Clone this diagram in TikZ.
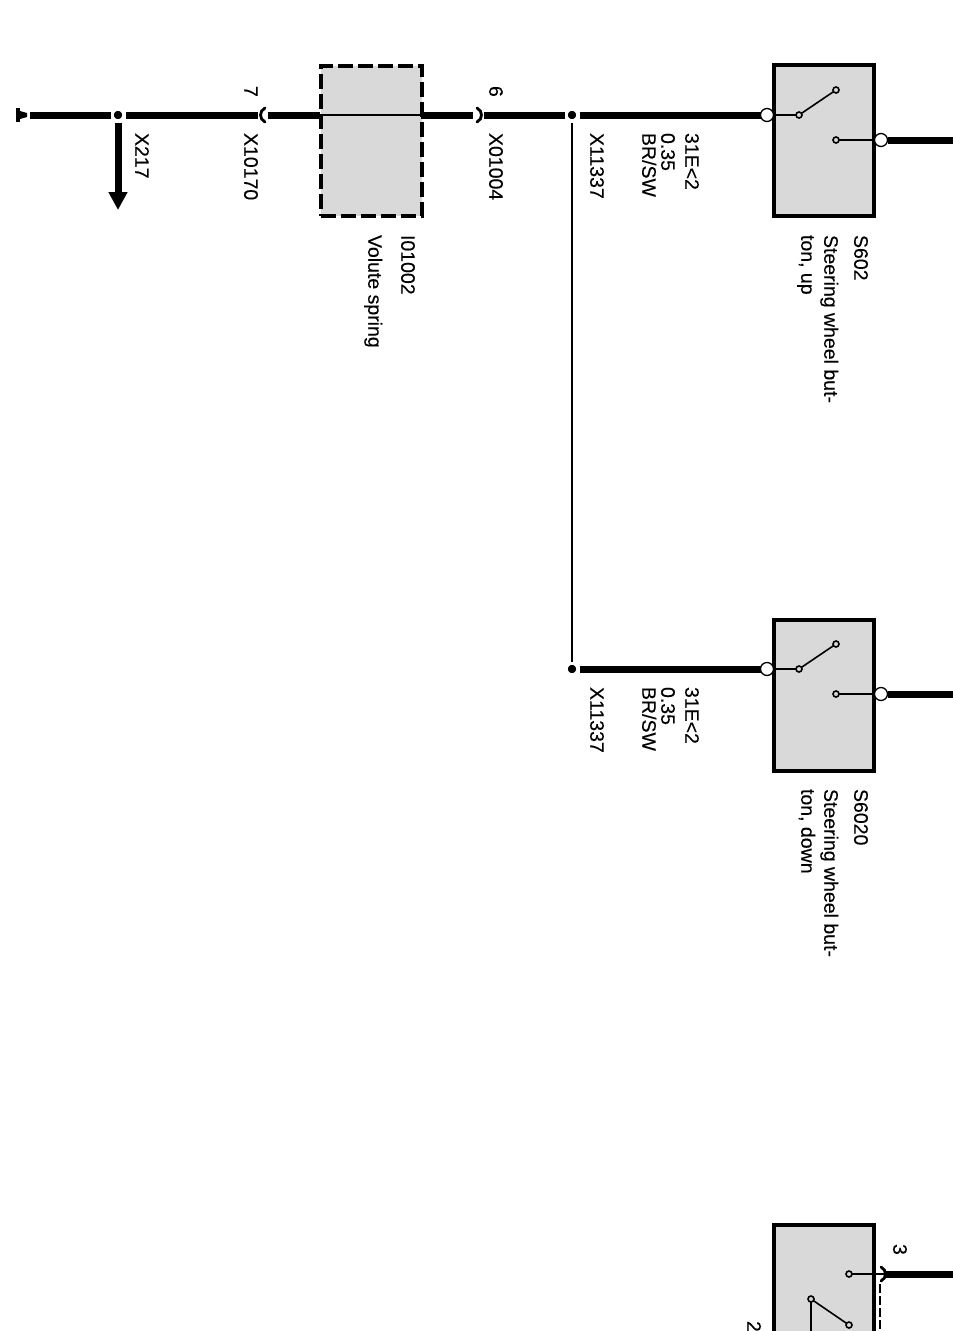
\documentclass[tikz,border=0pt]{standalone}
\usepackage{fontspec}
\setmainfont{Liberation Sans}
\usetikzlibrary{arrows.meta}
\definecolor{boxgray}{HTML}{D9D9D9}
\tikzset{
  lbl/.style={rotate=-90,anchor=west,inner sep=0pt,outer sep=0pt,text height=9.5pt,text depth=0pt,font=\fontsize{19.5}{22}\selectfont\addfontfeature{FakeBold=0.25}},
  swbox/.style={draw=black,fill=boxgray,line width=4pt,minimum width=100pt,minimum height=151pt,inner sep=0pt,outer sep=0pt},
  volbox/.style={draw=black,fill=boxgray,line width=4pt,minimum width=101pt,minimum height=150pt,inner sep=0pt,outer sep=0pt,dash pattern=on 15pt off 5pt},
  term/.style={circle,draw=black,fill=white,line width=1.3pt,minimum size=13pt,inner sep=0pt,outer sep=0pt},
  contact/.style={circle,draw=black,fill=boxgray,line width=1.6pt,minimum size=6pt,inner sep=0pt,outer sep=0pt},
  jdot/.style={circle,fill=black,draw=white,line width=3.5pt,minimum size=12pt,inner sep=0pt,outer sep=1.5pt},
  heavy/.style={line width=7pt,draw=black},
  thinw/.style={line width=1.6pt,draw=black},
  cbr/.style={line width=2.8pt,draw=black,line cap=round},
}
\begin{document}
\begin{tikzpicture}[x=1pt,y=-1pt]
\useasboundingbox (0,0) rectangle (953,1331);
% boxes
\node[volbox] (vol) at (371,141) {};
\node[swbox] (s1) at (824,140.5) {};
\node[swbox] (s2) at (824,695) {};
\node[swbox] (s3) at (824,1300) {};
% coordinates for free ends
\coordinate (gndend) at (30,115);
\coordinate (arrowend) at (118,210);
\coordinate (c7l) at (258,115);
\coordinate (c7r) at (268,115);
\coordinate (c6l) at (473,115);
\coordinate (c6r) at (484,115);
\coordinate (vl) at (320,115);
\coordinate (vr) at (421,115);
\coordinate (e1) at (953,140);
\coordinate (e2) at (953,694);
\coordinate (e3) at (953,1274);
\coordinate (c3r) at (886,1274);
\coordinate (c3d) at (880,1284);
\coordinate (c3b) at (880,1331);
\coordinate (k3) at (811,1331);
% junctions
\node[jdot] (j217) at (118,115) {};
\node[jdot] (j1) at (572,115) {};
\node[jdot] (j2) at (572,669) {};
% terminals and contacts
\node[term] (t1a) at (767,115) {};
\node[term] (t1b) at (881,140) {};
\node[term] (t2a) at (767,669) {};
\node[term] (t2b) at (881,694) {};
\node[contact] (k1a) at (799,115) {};
\node[contact] (k1b) at (836,90) {};
\node[contact] (k1c) at (836,140) {};
\node[contact] (k2a) at (799,669) {};
\node[contact] (k2b) at (836,644) {};
\node[contact] (k2c) at (836,694) {};
\node[contact] (k3a) at (849,1274) {};
\node[contact] (k3b) at (811,1299) {};
\node[contact] (k3c) at (849,1325) {};
% heavy wires
\draw[heavy] (gndend) -- (j217);
\draw[heavy] (j217) -- (c7l);
\draw[heavy] (c7r) -- (vl);
\draw[heavy] (vr) -- (c6l);
\draw[heavy] (c6r) -- (j1);
\draw[heavy] (j1) -- (t1a);
\draw[heavy] (j2) -- (t2a);
\draw[heavy] (t1b) -- (e1);
\draw[heavy] (t2b) -- (e2);
\draw[heavy] (c3r) -- (e3);
\draw[heavy,-{Triangle[width=18pt,length=18pt]}] (j217) -- (arrowend);
% thin wires
\draw[thinw] (vl) -- (vr);
\draw[line width=1.6pt] (j1) -- (j2);
\draw[thinw] (t1a) -- (k1a);
\draw[thinw] (k1a) -- (k1b);
\draw[thinw] (k1c) -- (t1b);
\draw[thinw] (t2a) -- (k2a);
\draw[thinw] (k2a) -- (k2b);
\draw[thinw] (k2c) -- (t2b);
\draw[thinw] (k3a) -- (c3r);
\draw[thinw] (k3b) -- (k3c);
\draw[thinw] (k3b) -- (k3);
\draw[line width=1.3pt,dash pattern=on 9pt off 3pt] (c3d) -- (c3b);
% connector brackets
\draw[cbr] (265,108) .. controls (259,111) and (259,119) .. (265,122);
\draw[cbr] (477,108) .. controls (483,111) and (483,119) .. (477,122);
\draw[cbr] (881,1267) .. controls (887,1270) and (887,1278) .. (881,1281);
% ground
\fill (16,108) rectangle (20,122);
\fill (20,111) -- (27,113) -- (27,117) -- (20,119) -- cycle;
% labels
\node[lbl] (l7) at (249,86) {7};
\node[lbl] (lx10170) at (249,133) {X10170};
\node[lbl] (lx217) at (140,133) {X217};
\node[lbl] (l6) at (494,86) {6};
\node[lbl] (lx01004) at (494,133) {X01004};
\node[lbl] (lx1a) at (595,133) {X11337};
\node[lbl] (lw1a) at (690,133) {31E<2};
\node[lbl] (lw1b) at (666,133) {0.35};
\node[lbl] (lw1c) at (647,133) {BR/SW};
\node[lbl] (lx2a) at (595,687) {X11337};
\node[lbl] (lw2a) at (690,687) {31E<2};
\node[lbl] (lw2b) at (666,687) {0.35};
\node[lbl] (lw2c) at (647,687) {BR/SW};
\node[lbl] (li) at (406,235) {I01002};
\node[lbl] (lv) at (373,235) {Volute spring};
\node[lbl] (ls1) at (859,235) {S602};
\node[lbl] (ls1a) at (829,235) {Steering wheel but-};
\node[lbl] (ls1b) at (806,235) {ton, up};
\node[lbl] (ls2) at (859,789) {S6020};
\node[lbl] (ls2a) at (829,789) {Steering wheel but-};
\node[lbl] (ls2b) at (806,789) {ton, down};
\node[lbl] (l3) at (898,1244) {3};
\node[lbl] (l2) at (752,1321) {2};
\end{tikzpicture}
\end{document}
